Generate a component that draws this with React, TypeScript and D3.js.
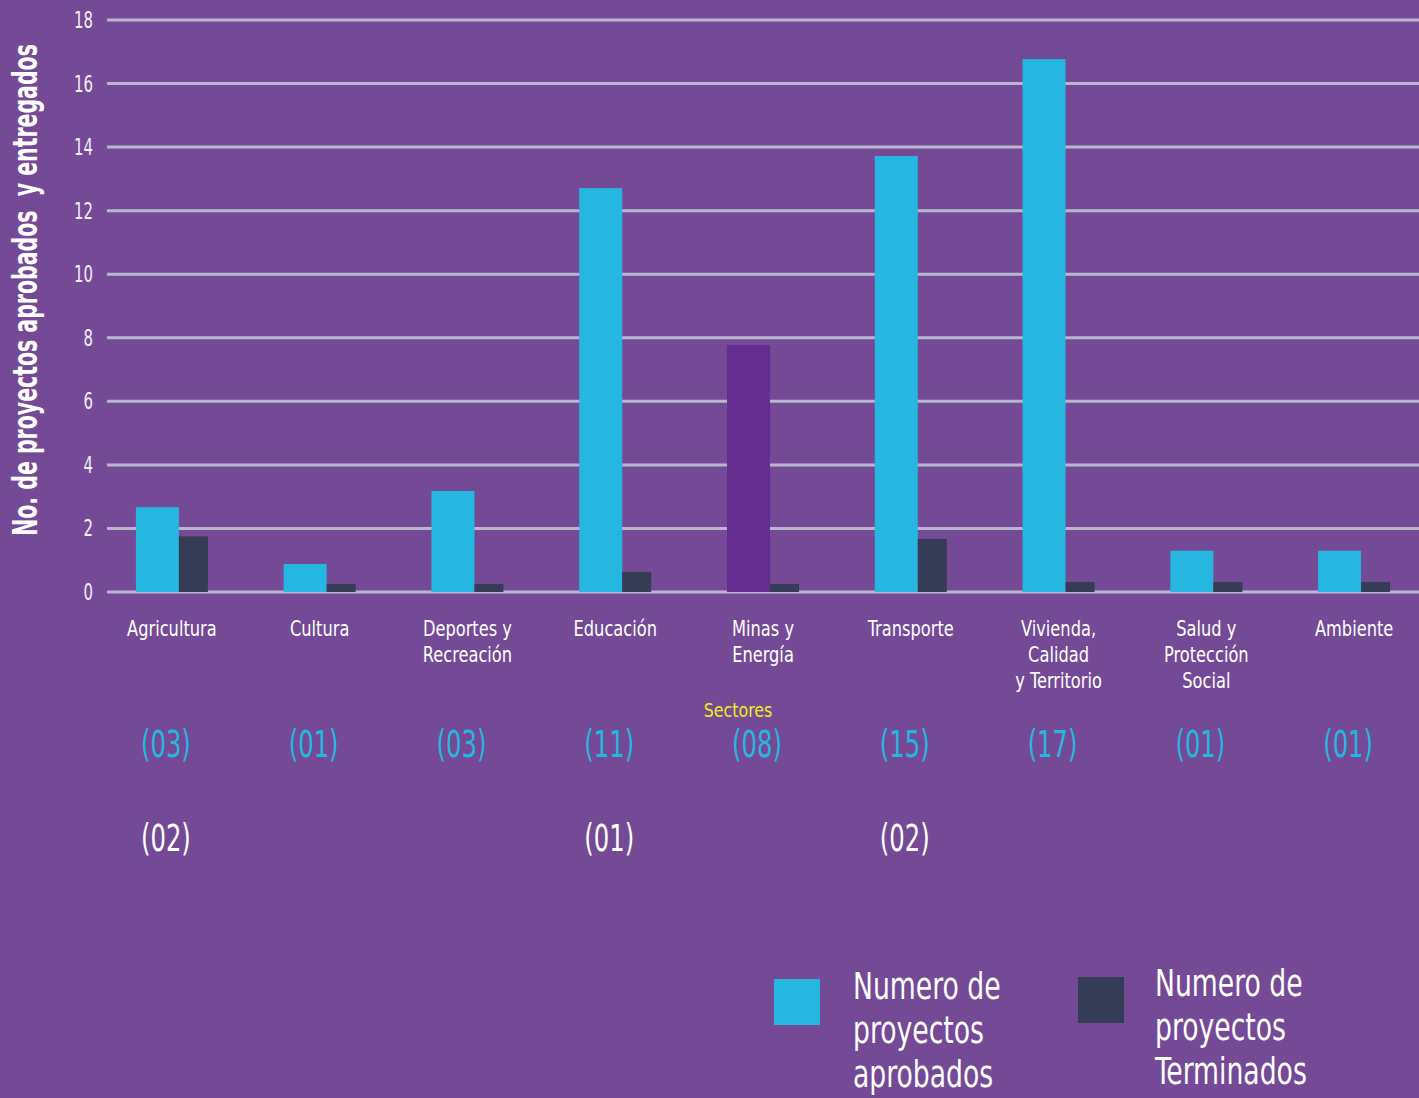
import React from "react";
import * as d3 from "d3";

const categories: string[][] = [
  ["Agricultura"],
  ["Cultura"],
  ["Deportes y", "Recreación"],
  ["Educación"],
  ["Minas y", "Energía"],
  ["Transporte"],
  ["Vivienda,", "Calidad", "y Territorio"],
  ["Salud y", "Protección", "Social"],
  ["Ambiente"],
];
const aprobados = [2.67, 0.88, 3.18, 12.71, 7.77, 13.72, 16.77, 1.3, 1.3];
const terminados = [1.75, 0.25, 0.25, 0.63, 0.25, 1.67, 0.31, 0.31, 0.31];
const countAprobados = ["03", "01", "03", "11", "08", "15", "17", "01", "01"];
const countTerminados = ["02", "", "", "01", "", "02", "", "", ""];
const highlighted = [false, false, false, false, true, false, false, false, false];
const yTicks = [0, 2, 4, 6, 8, 10, 12, 14, 16, 18];
const legendLabels = [
  ["Numero de", "proyectos", "aprobados"],
  ["Numero de", "proyectos", "Terminados"],
];

const W = 1419;
const H = 1098;
const BG = "#744a96";
const CYAN = "#25b7e0";
const DARK = "#353c55";
const PURPLE = "#662d91";
const GRID = "#b9b7cf";
const FONT = "'DejaVu Sans Condensed', 'DejaVu Sans', sans-serif";

type TProps = {
  x: number;
  y: number;
  sx: number;
  lines: string[];
  lh?: number;
  anchor?: "start" | "middle" | "end";
  size: number;
  fill: string;
  weight?: string;
  rotate?: number;
};

function T({ x, y, sx, lines, lh = 0, anchor = "start", size, fill, weight, rotate = 0 }: TProps) {
  return (
    <text
      transform={`translate(${x},${y}) rotate(${rotate}) scale(${sx},1)`}
      textAnchor={anchor}
      fontSize={size}
      fill={fill}
      fontWeight={weight}
      xmlSpace="preserve"
    >
      {lines.map((l, j) => (
        <tspan key={j} x={0} y={j * lh}>
          {l}
        </tspan>
      ))}
    </text>
  );
}

export default function App() {
  const y = d3.scaleLinear().domain([0, 18]).range([592, 20]);
  const x = d3
    .scaleBand<number>()
    .domain(d3.range(categories.length))
    .range([98, 1428])
    .paddingInner(0)
    .paddingOuter(0);
  const bw = x.bandwidth();
  const cx = (i: number) => (x(i) as number) + bw / 2;

  return (
    <svg
      width={W}
      height={H}
      style={{ display: "block", position: "absolute", left: 0, top: 0, background: BG }}
      fontFamily={FONT}
    >
      <rect x={0} y={0} width={W} height={H} fill={BG} />
      {yTicks.map((t) => (
        <g key={t}>
          <line x1={107} x2={W} y1={y(t)} y2={y(t)} stroke={GRID} strokeWidth={3} />
          <T x={93} y={y(t) + 8} sx={0.72} lines={[String(t)]} anchor="end" size={23} fill="#f3eef8" />
        </g>
      ))}
      <T
        x={37}
        y={290}
        rotate={-90}
        sx={0.67}
        lines={["No. de proyectos aprobados  y entregados"]}
        anchor="middle"
        size={34}
        fill="#ffffff"
        weight="bold"
      />
      {categories.map((_, i) => {
        const c = cx(i);
        return (
          <g key={i}>
            <rect
              x={c - 36}
              width={43}
              y={y(aprobados[i])}
              height={y(0) - y(aprobados[i])}
              fill={highlighted[i] ? PURPLE : CYAN}
            />
            <rect
              x={c + 7}
              width={29}
              y={y(terminados[i])}
              height={y(0) - y(terminados[i])}
              fill={DARK}
            />
          </g>
        );
      })}
      {categories.map((lines, i) => (
        <T key={i} x={cx(i)} y={636} sx={0.86} lines={lines} lh={26} anchor="middle" size={21} fill="#ffffff" />
      ))}
      <T x={738} y={717} sx={0.88} lines={["Sectores"]} anchor="middle" size={20} fill="#f2ea1c" />
      {countAprobados.map((c, i) => (
        <T key={i} x={cx(i) - 6} y={757} sx={0.73} lines={[`(${c})`]} anchor="middle" size={37} fill={CYAN} />
      ))}
      {countTerminados.map((c, i) =>
        c ? (
          <T key={i} x={cx(i) - 6} y={851} sx={0.73} lines={[`(${c})`]} anchor="middle" size={37} fill="#ffffff" />
        ) : null
      )}
      <rect x={774} y={979} width={46} height={46} fill={CYAN} />
      <T x={853} y={999} sx={0.78} lines={legendLabels[0]} lh={44} size={38} fill="#ffffff" />
      <rect x={1078} y={977} width={46} height={46} fill={DARK} />
      <T x={1155} y={996} sx={0.78} lines={legendLabels[1]} lh={44} size={38} fill="#ffffff" />
    </svg>
  );
}
